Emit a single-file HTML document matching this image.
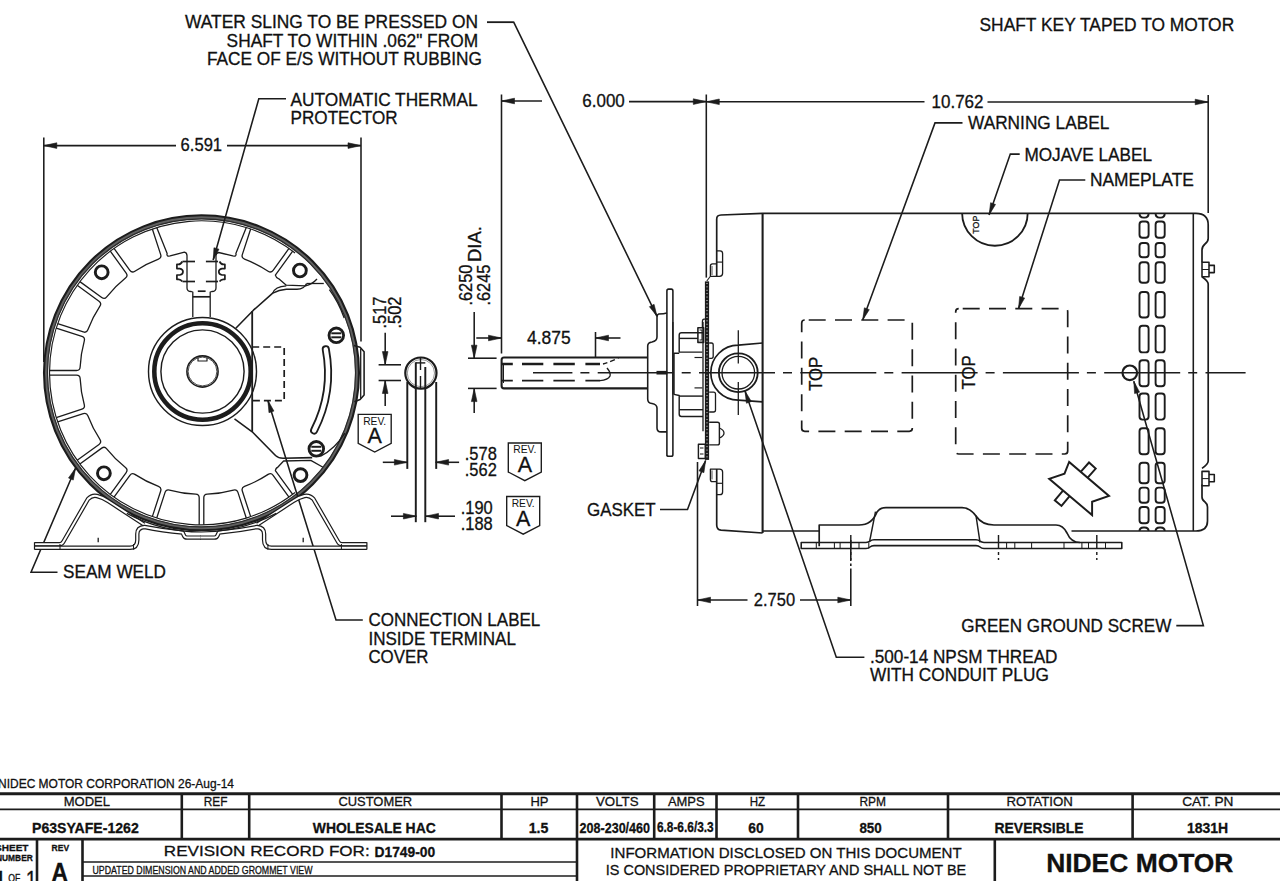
<!DOCTYPE html>
<html><head><meta charset="utf-8"><style>
html,body{margin:0;padding:0;background:#fff;width:1280px;height:881px;overflow:hidden}
svg{display:block}
</style></head><body>
<svg width="1280" height="881" viewBox="0 0 1280 881" stroke-linecap="butt">
<text x="185" y="28.2" font-family="'Liberation Sans', sans-serif" font-size="17.6" font-weight="normal" text-anchor="start" fill="#111" stroke="#111" stroke-width="0.3" textLength="293" lengthAdjust="spacingAndGlyphs" >WATER SLING TO BE PRESSED ON</text>
<text x="226.6" y="46.9" font-family="'Liberation Sans', sans-serif" font-size="17.6" font-weight="normal" text-anchor="start" fill="#111" stroke="#111" stroke-width="0.3" textLength="251.5" lengthAdjust="spacingAndGlyphs" >SHAFT TO WITHIN .062&quot; FROM</text>
<text x="206.9" y="65.2" font-family="'Liberation Sans', sans-serif" font-size="17.6" font-weight="normal" text-anchor="start" fill="#111" stroke="#111" stroke-width="0.3" textLength="275" lengthAdjust="spacingAndGlyphs" >FACE OF E/S WITHOUT RUBBING</text>
<line x1="487" y1="22.3" x2="513.8" y2="22.3" stroke="#1c1c1c" stroke-width="1.56" />
<text x="979.5" y="30.5" font-family="'Liberation Sans', sans-serif" font-size="17.6" font-weight="normal" text-anchor="start" fill="#111" stroke="#111" stroke-width="0.3" textLength="254.7" lengthAdjust="spacingAndGlyphs" >SHAFT KEY TAPED TO MOTOR</text>
<text x="290.6" y="105.6" font-family="'Liberation Sans', sans-serif" font-size="17.6" font-weight="normal" text-anchor="start" fill="#111" stroke="#111" stroke-width="0.3" textLength="187" lengthAdjust="spacingAndGlyphs" >AUTOMATIC THERMAL</text>
<text x="290.6" y="123.9" font-family="'Liberation Sans', sans-serif" font-size="17.6" font-weight="normal" text-anchor="start" fill="#111" stroke="#111" stroke-width="0.3" textLength="107" lengthAdjust="spacingAndGlyphs" >PROTECTOR</text>
<text x="968" y="128.8" font-family="'Liberation Sans', sans-serif" font-size="17.6" font-weight="normal" text-anchor="start" fill="#111" stroke="#111" stroke-width="0.3" textLength="141.3" lengthAdjust="spacingAndGlyphs" >WARNING LABEL</text>
<text x="1024.4" y="161.2" font-family="'Liberation Sans', sans-serif" font-size="17.6" font-weight="normal" text-anchor="start" fill="#111" stroke="#111" stroke-width="0.3" textLength="127.6" lengthAdjust="spacingAndGlyphs" >MOJAVE LABEL</text>
<text x="1090" y="186.2" font-family="'Liberation Sans', sans-serif" font-size="17.6" font-weight="normal" text-anchor="start" fill="#111" stroke="#111" stroke-width="0.3" textLength="103.8" lengthAdjust="spacingAndGlyphs" >NAMEPLATE</text>
<text x="587" y="516.3" font-family="'Liberation Sans', sans-serif" font-size="17.6" font-weight="normal" text-anchor="start" fill="#111" stroke="#111" stroke-width="0.3" textLength="68.7" lengthAdjust="spacingAndGlyphs" >GASKET</text>
<text x="63" y="578.1" font-family="'Liberation Sans', sans-serif" font-size="17.6" font-weight="normal" text-anchor="start" fill="#111" stroke="#111" stroke-width="0.3" textLength="103" lengthAdjust="spacingAndGlyphs" >SEAM WELD</text>
<text x="368.4" y="626" font-family="'Liberation Sans', sans-serif" font-size="17.6" font-weight="normal" text-anchor="start" fill="#111" stroke="#111" stroke-width="0.3" textLength="171.9" lengthAdjust="spacingAndGlyphs" >CONNECTION LABEL</text>
<text x="368.4" y="644.8" font-family="'Liberation Sans', sans-serif" font-size="17.6" font-weight="normal" text-anchor="start" fill="#111" stroke="#111" stroke-width="0.3" textLength="147.6" lengthAdjust="spacingAndGlyphs" >INSIDE TERMINAL</text>
<text x="368.4" y="663.1" font-family="'Liberation Sans', sans-serif" font-size="17.6" font-weight="normal" text-anchor="start" fill="#111" stroke="#111" stroke-width="0.3" textLength="60" lengthAdjust="spacingAndGlyphs" >COVER</text>
<text x="961.3" y="631.9" font-family="'Liberation Sans', sans-serif" font-size="17.6" font-weight="normal" text-anchor="start" fill="#111" stroke="#111" stroke-width="0.3" textLength="210" lengthAdjust="spacingAndGlyphs" >GREEN GROUND SCREW</text>
<text x="870" y="663.4" font-family="'Liberation Sans', sans-serif" font-size="17.6" font-weight="normal" text-anchor="start" fill="#111" stroke="#111" stroke-width="0.3" textLength="187.5" lengthAdjust="spacingAndGlyphs" >.500-14 NPSM THREAD</text>
<text x="870" y="681.3" font-family="'Liberation Sans', sans-serif" font-size="17.6" font-weight="normal" text-anchor="start" fill="#111" stroke="#111" stroke-width="0.3" textLength="178.8" lengthAdjust="spacingAndGlyphs" >WITH CONDUIT PLUG</text>
<line x1="43.8" y1="137.5" x2="43.8" y2="362" stroke="#1c1c1c" stroke-width="1.56" />
<line x1="361" y1="137.5" x2="361" y2="341.5" stroke="#1c1c1c" stroke-width="1.56" />
<line x1="43.8" y1="145.6" x2="176" y2="145.6" stroke="#1c1c1c" stroke-width="1.56" />
<line x1="227" y1="145.6" x2="361" y2="145.6" stroke="#1c1c1c" stroke-width="1.56" />
<path d="M43.8,145.6 L56.8,142.8 L56.8,148.4 Z" fill="#1c1c1c" stroke="#1c1c1c" stroke-width="0.6"/>
<path d="M361,145.6 L348,148.4 L348,142.8 Z" fill="#1c1c1c" stroke="#1c1c1c" stroke-width="0.6"/>
<text x="180.6" y="151.2" font-family="'Liberation Sans', sans-serif" font-size="17.6" font-weight="normal" text-anchor="start" fill="#111" stroke="#111" stroke-width="0.3" textLength="41.5" lengthAdjust="spacingAndGlyphs" >6.591</text>
<line x1="501.5" y1="94.5" x2="501.5" y2="353.5" stroke="#1c1c1c" stroke-width="1.56" />
<line x1="706.3" y1="94.5" x2="706.3" y2="277.6" stroke="#1c1c1c" stroke-width="1.56" />
<line x1="501.5" y1="101" x2="542" y2="101" stroke="#1c1c1c" stroke-width="1.56" />
<path d="M501.5,101 L514.5,98.2 L514.5,103.8 Z" fill="#1c1c1c" stroke="#1c1c1c" stroke-width="0.6"/>
<text x="582.3" y="107.4" font-family="'Liberation Sans', sans-serif" font-size="17.6" font-weight="normal" text-anchor="start" fill="#111" stroke="#111" stroke-width="0.3" textLength="42.5" lengthAdjust="spacingAndGlyphs" >6.000</text>
<line x1="629" y1="101.6" x2="706.3" y2="101.6" stroke="#1c1c1c" stroke-width="1.56" />
<path d="M706.3,101.6 L693.3,104.4 L693.3,98.8 Z" fill="#1c1c1c" stroke="#1c1c1c" stroke-width="0.6"/>
<line x1="706.3" y1="101.8" x2="924.5" y2="101.8" stroke="#1c1c1c" stroke-width="1.56" />
<path d="M706.3,101.8 L719.3,99 L719.3,104.6 Z" fill="#1c1c1c" stroke="#1c1c1c" stroke-width="0.6"/>
<text x="931.5" y="108.1" font-family="'Liberation Sans', sans-serif" font-size="17.6" font-weight="normal" text-anchor="start" fill="#111" stroke="#111" stroke-width="0.3" textLength="52" lengthAdjust="spacingAndGlyphs" >10.762</text>
<line x1="987.5" y1="102" x2="1208.2" y2="102" stroke="#1c1c1c" stroke-width="1.56" />
<path d="M1208.2,102 L1195.2,104.8 L1195.2,99.2 Z" fill="#1c1c1c" stroke="#1c1c1c" stroke-width="0.6"/>
<line x1="1208.2" y1="95" x2="1208.2" y2="213" stroke="#1c1c1c" stroke-width="1.56" />
<line x1="476.3" y1="338" x2="501.5" y2="338" stroke="#1c1c1c" stroke-width="1.56" />
<path d="M501.5,338 L488.5,340.8 L488.5,335.2 Z" fill="#1c1c1c" stroke="#1c1c1c" stroke-width="0.6"/>
<line x1="595.5" y1="332" x2="595.5" y2="358" stroke="#1c1c1c" stroke-width="1.56" />
<line x1="595.5" y1="338" x2="620.5" y2="338" stroke="#1c1c1c" stroke-width="1.56" />
<path d="M595.5,338 L608.5,335.2 L608.5,340.8 Z" fill="#1c1c1c" stroke="#1c1c1c" stroke-width="0.6"/>
<text x="527" y="344.2" font-family="'Liberation Sans', sans-serif" font-size="17.6" font-weight="normal" text-anchor="start" fill="#111" stroke="#111" stroke-width="0.3" textLength="43.7" lengthAdjust="spacingAndGlyphs" >4.875</text>
<line x1="474.2" y1="312" x2="474.2" y2="358.2" stroke="#1c1c1c" stroke-width="1.56" />
<path d="M474.2,358.2 L471.4,345.2 L477,345.2 Z" fill="#1c1c1c" stroke="#1c1c1c" stroke-width="0.6"/>
<line x1="468" y1="358.2" x2="496.6" y2="358.2" stroke="#1c1c1c" stroke-width="1.56" />
<line x1="468" y1="388.4" x2="496.6" y2="388.4" stroke="#1c1c1c" stroke-width="1.56" />
<line x1="474.2" y1="388.6" x2="474.2" y2="413" stroke="#1c1c1c" stroke-width="1.56" />
<path d="M474.2,388.6 L477,401.6 L471.4,401.6 Z" fill="#1c1c1c" stroke="#1c1c1c" stroke-width="0.6"/>
<text x="0" y="0" font-family="'Liberation Sans', sans-serif" font-size="17.6" font-weight="normal" text-anchor="start" fill="#111" stroke="#111" stroke-width="0.3" textLength="41" lengthAdjust="spacingAndGlyphs" transform="translate(471.6,305.6) rotate(-90)">.6250</text>
<text x="0" y="0" font-family="'Liberation Sans', sans-serif" font-size="17.6" font-weight="normal" text-anchor="start" fill="#111" stroke="#111" stroke-width="0.3" textLength="41" lengthAdjust="spacingAndGlyphs" transform="translate(489.6,305.6) rotate(-90)">.6245</text>
<text x="0" y="0" font-family="'Liberation Sans', sans-serif" font-size="17.6" font-weight="normal" text-anchor="start" fill="#111" stroke="#111" stroke-width="0.3" textLength="36" lengthAdjust="spacingAndGlyphs" transform="translate(481.2,262) rotate(-90)">DIA.</text>
<line x1="385.2" y1="332.8" x2="385.2" y2="364.6" stroke="#1c1c1c" stroke-width="1.56" />
<path d="M385.2,364.6 L382.4,351.6 L388,351.6 Z" fill="#1c1c1c" stroke="#1c1c1c" stroke-width="0.6"/>
<line x1="378.6" y1="364.8" x2="401" y2="364.8" stroke="#1c1c1c" stroke-width="1.56" />
<line x1="378.6" y1="380.5" x2="401" y2="380.5" stroke="#1c1c1c" stroke-width="1.56" />
<line x1="385.2" y1="380.5" x2="385.2" y2="406" stroke="#1c1c1c" stroke-width="1.56" />
<path d="M385.2,380.5 L388,393.5 L382.4,393.5 Z" fill="#1c1c1c" stroke="#1c1c1c" stroke-width="0.6"/>
<text x="0" y="0" font-family="'Liberation Sans', sans-serif" font-size="17.6" font-weight="normal" text-anchor="start" fill="#111" stroke="#111" stroke-width="0.3" textLength="32" lengthAdjust="spacingAndGlyphs" transform="translate(385.8,328.5) rotate(-90)">.517</text>
<text x="0" y="0" font-family="'Liberation Sans', sans-serif" font-size="17.6" font-weight="normal" text-anchor="start" fill="#111" stroke="#111" stroke-width="0.3" textLength="32" lengthAdjust="spacingAndGlyphs" transform="translate(401.2,328.5) rotate(-90)">.502</text>
<line x1="382.8" y1="462.3" x2="407.4" y2="462.3" stroke="#1c1c1c" stroke-width="1.56" />
<path d="M407.4,462.3 L394.4,465.1 L394.4,459.5 Z" fill="#1c1c1c" stroke="#1c1c1c" stroke-width="0.6"/>
<line x1="435.6" y1="462.3" x2="459.1" y2="462.3" stroke="#1c1c1c" stroke-width="1.56" />
<path d="M435.6,462.3 L448.6,459.5 L448.6,465.1 Z" fill="#1c1c1c" stroke="#1c1c1c" stroke-width="0.6"/>
<text x="464.8" y="459.9" font-family="'Liberation Sans', sans-serif" font-size="17.6" font-weight="normal" text-anchor="start" fill="#111" stroke="#111" stroke-width="0.3" textLength="32" lengthAdjust="spacingAndGlyphs" >.578</text>
<text x="464.8" y="475.8" font-family="'Liberation Sans', sans-serif" font-size="17.6" font-weight="normal" text-anchor="start" fill="#111" stroke="#111" stroke-width="0.3" textLength="32" lengthAdjust="spacingAndGlyphs" >.562</text>
<line x1="391" y1="516.2" x2="416.4" y2="516.2" stroke="#1c1c1c" stroke-width="1.56" />
<path d="M416.4,516.2 L403.4,519 L403.4,513.4 Z" fill="#1c1c1c" stroke="#1c1c1c" stroke-width="0.6"/>
<line x1="425.5" y1="516.2" x2="455" y2="516.2" stroke="#1c1c1c" stroke-width="1.56" />
<path d="M425.5,516.2 L438.5,513.4 L438.5,519 Z" fill="#1c1c1c" stroke="#1c1c1c" stroke-width="0.6"/>
<text x="460.7" y="514" font-family="'Liberation Sans', sans-serif" font-size="17.6" font-weight="normal" text-anchor="start" fill="#111" stroke="#111" stroke-width="0.3" textLength="32" lengthAdjust="spacingAndGlyphs" >.190</text>
<text x="460.7" y="529.6" font-family="'Liberation Sans', sans-serif" font-size="17.6" font-weight="normal" text-anchor="start" fill="#111" stroke="#111" stroke-width="0.3" textLength="32" lengthAdjust="spacingAndGlyphs" >.188</text>
<line x1="697.5" y1="462" x2="697.5" y2="606" stroke="#1c1c1c" stroke-width="1.56" />
<line x1="697.5" y1="600" x2="747.5" y2="600" stroke="#1c1c1c" stroke-width="1.56" />
<path d="M697.5,600 L710.5,597.2 L710.5,602.8 Z" fill="#1c1c1c" stroke="#1c1c1c" stroke-width="0.6"/>
<text x="753.8" y="606.2" font-family="'Liberation Sans', sans-serif" font-size="17.6" font-weight="normal" text-anchor="start" fill="#111" stroke="#111" stroke-width="0.3" textLength="41.3" lengthAdjust="spacingAndGlyphs" >2.750</text>
<line x1="800" y1="600" x2="850.8" y2="600" stroke="#1c1c1c" stroke-width="1.56" />
<path d="M850.8,600 L837.8,602.8 L837.8,597.2 Z" fill="#1c1c1c" stroke="#1c1c1c" stroke-width="0.6"/>
<line x1="850.8" y1="540" x2="850.8" y2="606" stroke="#1c1c1c" stroke-width="1.56" stroke-dasharray="21,2.5,2.5,2.5,40"/>
<path d="M358.2,414.4 L391.2,414.4 L391.2,443.4 L374.7,452.1 L358.2,443.4 Z" fill="none" stroke="#1c1c1c" stroke-width="1.37" />
<text x="374.7" y="424.7" font-family="'Liberation Sans', sans-serif" font-size="10.5" font-weight="normal" text-anchor="middle" fill="#111" stroke="#111" stroke-width="0" textLength="23" lengthAdjust="spacingAndGlyphs" >REV.</text>
<text x="374.7" y="443.4" font-family="'Liberation Sans', sans-serif" font-size="21.5" font-weight="normal" text-anchor="middle" fill="#111" stroke="#111" stroke-width="0.3" >A</text>
<path d="M508.3,443 L541.3,443 L541.3,472 L524.8,480.7 L508.3,472 Z" fill="none" stroke="#1c1c1c" stroke-width="1.37" />
<text x="524.8" y="453.3" font-family="'Liberation Sans', sans-serif" font-size="10.5" font-weight="normal" text-anchor="middle" fill="#111" stroke="#111" stroke-width="0" textLength="23" lengthAdjust="spacingAndGlyphs" >REV.</text>
<text x="524.8" y="472" font-family="'Liberation Sans', sans-serif" font-size="21.5" font-weight="normal" text-anchor="middle" fill="#111" stroke="#111" stroke-width="0.3" >A</text>
<path d="M506.7,496.5 L539.7,496.5 L539.7,525.5 L523.2,534.2 L506.7,525.5 Z" fill="none" stroke="#1c1c1c" stroke-width="1.37" />
<text x="523.2" y="506.8" font-family="'Liberation Sans', sans-serif" font-size="10.5" font-weight="normal" text-anchor="middle" fill="#111" stroke="#111" stroke-width="0" textLength="23" lengthAdjust="spacingAndGlyphs" >REV.</text>
<text x="523.2" y="525.5" font-family="'Liberation Sans', sans-serif" font-size="21.5" font-weight="normal" text-anchor="middle" fill="#111" stroke="#111" stroke-width="0.3" >A</text>
<circle cx="201.5" cy="372.8" r="155.6" fill="none" stroke="#606060" stroke-width="3.9" />
<circle cx="201.5" cy="372.8" r="157.5" fill="none" stroke="#1c1c1c" stroke-width="2.08" />
<circle cx="201.5" cy="372.8" r="154" fill="none" stroke="#2a2a2a" stroke-width="1.17" />
<path d="M295.08,492.58 A152,152 0 1 1 295.08,253.02" fill="none" stroke="#1c1c1c" stroke-width="1.17" stroke-linejoin="round" />
<path d="M288.98,497.12 L273.11,475.28 Q271.06,472.45 268.14,474.39 A121.5,121.5 0 0 1 244.52,486.43 Q241.23,487.64 242.31,490.97 L250.66,516.65" fill="none" stroke="#1c1c1c" stroke-width="1.3" stroke-linejoin="round" />
<path d="M246.28,518.07 L237.94,492.39 Q236.86,489.06 233.49,490.01 A121.5,121.5 0 0 1 207.3,494.16 Q203.8,494.3 203.8,497.8 L203.8,524.8" fill="none" stroke="#1c1c1c" stroke-width="1.3" stroke-linejoin="round" />
<path d="M199.2,524.8 L199.2,497.8 Q199.2,494.3 195.7,494.16 A121.5,121.5 0 0 1 169.51,490.01 Q166.14,489.06 165.06,492.39 L156.72,518.07" fill="none" stroke="#1c1c1c" stroke-width="1.3" stroke-linejoin="round" />
<path d="M152.34,516.65 L160.69,490.97 Q161.77,487.64 158.48,486.43 A121.5,121.5 0 0 1 134.86,474.39 Q131.94,472.45 129.89,475.28 L114.02,497.12" fill="none" stroke="#1c1c1c" stroke-width="1.3" stroke-linejoin="round" />
<path d="M110.3,494.42 L126.17,472.58 Q128.22,469.74 125.48,467.58 A121.5,121.5 0 0 1 106.72,448.82 Q104.56,446.08 101.72,448.13 L79.88,464" fill="none" stroke="#1c1c1c" stroke-width="1.3" stroke-linejoin="round" />
<path d="M77.18,460.28 L99.02,444.41 Q101.85,442.36 99.91,439.44 A121.5,121.5 0 0 1 87.87,415.82 Q86.66,412.53 83.33,413.61 L57.65,421.96" fill="none" stroke="#1c1c1c" stroke-width="1.3" stroke-linejoin="round" />
<path d="M56.23,417.58 L81.91,409.24 Q85.24,408.16 84.29,404.79 A121.5,121.5 0 0 1 80.14,378.6 Q80,375.1 76.5,375.1 L49.5,375.1" fill="none" stroke="#1c1c1c" stroke-width="1.3" stroke-linejoin="round" />
<path d="M49.5,370.5 L76.5,370.5 Q80,370.5 80.14,367 A121.5,121.5 0 0 1 84.29,340.81 Q85.24,337.44 81.91,336.36 L56.23,328.02" fill="none" stroke="#1c1c1c" stroke-width="1.3" stroke-linejoin="round" />
<path d="M57.65,323.64 L83.33,331.99 Q86.66,333.07 87.87,329.78 A121.5,121.5 0 0 1 99.91,306.16 Q101.85,303.24 99.02,301.19 L77.18,285.32" fill="none" stroke="#1c1c1c" stroke-width="1.3" stroke-linejoin="round" />
<path d="M79.88,281.6 L101.72,297.47 Q104.56,299.52 106.72,296.78 A121.5,121.5 0 0 1 125.48,278.02 Q128.22,275.86 126.17,273.02 L110.3,251.18" fill="none" stroke="#1c1c1c" stroke-width="1.3" stroke-linejoin="round" />
<path d="M114.02,248.48 L129.89,270.32 Q131.94,273.15 134.86,271.21 A121.5,121.5 0 0 1 158.48,259.17 Q161.77,257.96 160.69,254.63 L152.34,228.95" fill="none" stroke="#1c1c1c" stroke-width="1.3" stroke-linejoin="round" />
<path d="M250.66,228.95 L242.31,254.63 Q241.23,257.96 244.52,259.17 A121.5,121.5 0 0 1 268.14,271.21 Q271.06,273.15 273.11,270.32 L288.98,248.48" fill="none" stroke="#1c1c1c" stroke-width="1.3" stroke-linejoin="round" />
<path d="M156.72,227.53 L167.14,253.54 Q166.14,256.54 170.14,255.94 L184.4,252.2 Q187,252.5 187,256 L187,288 Q187,291.5 191.2,291.5 L192.8,292 L192.8,317" fill="none" stroke="#1c1c1c" stroke-width="1.3" stroke-linejoin="round" />
<path d="M246.28,227.53 L235.86,253.54 Q236.86,256.54 232.86,255.94 L218.7,252.5 Q216,252.8 216,256 L216,288 Q216,291.5 211.8,291.5 L210.2,292 L210.2,317" fill="none" stroke="#1c1c1c" stroke-width="1.3" stroke-linejoin="round" />
<path d="M182.3,261.5 Q180.8,264.4 178.5,264.4 L176.9,264.4 L176.9,268.6 L179.8,268.6 Q183,269.3 183,271.8 Q183,274.4 179.8,275 L176.9,275 L176.9,279.3 L178.5,279.3 Q180.8,279.3 182.3,281.5" fill="none" stroke="#1c1c1c" stroke-width="1.69" stroke-linejoin="round" />
<path d="M182.3,261.5 Q180.8,264.4 178.5,264.4 L176.9,264.4 L176.9,268.6 L179.8,268.6 Q183,269.3 183,271.8 Q183,274.4 179.8,275 L176.9,275 L176.9,279.3 L178.5,279.3 Q180.8,279.3 182.3,281.5" fill="none" stroke="#1c1c1c" stroke-width="1.69" stroke-linejoin="round" transform="matrix(-1,0,0,1,401.8,0)"/>
<line x1="182.5" y1="261.5" x2="195" y2="261.5" stroke="#1c1c1c" stroke-width="1.69" />
<line x1="205.9" y1="261.5" x2="218" y2="261.5" stroke="#1c1c1c" stroke-width="1.69" />
<line x1="182.5" y1="281.5" x2="195" y2="281.5" stroke="#1c1c1c" stroke-width="1.69" />
<line x1="205.9" y1="281.5" x2="218" y2="281.5" stroke="#1c1c1c" stroke-width="1.69" />
<line x1="197.8" y1="291.2" x2="205.6" y2="291.2" stroke="#1c1c1c" stroke-width="1.69" />
<line x1="192.8" y1="296.8" x2="210" y2="296.8" stroke="#1c1c1c" stroke-width="1.69" />
<path d="M292.7,251.18 L275.36,275.05 Q276.16,278.05 278.8,278.8 L286.3,285.2 L305.6,285.8 Q312,284.5 317,279" fill="none" stroke="#1c1c1c" stroke-width="1.3" stroke-linejoin="round" />
<path d="M292.7,494.42 L275.36,470.55 Q276.16,467.55 277.5,467.5 L283.6,461 L310.8,460.4 L323,467.2" fill="none" stroke="#1c1c1c" stroke-width="1.3" stroke-linejoin="round" />
<circle cx="101.7" cy="272.3" r="6.4" fill="none" stroke="#1c1c1c" stroke-width="2.93" />
<circle cx="299.9" cy="270.5" r="6.4" fill="none" stroke="#1c1c1c" stroke-width="2.93" />
<circle cx="103.9" cy="473.3" r="6.4" fill="none" stroke="#1c1c1c" stroke-width="2.93" />
<circle cx="300.5" cy="475.1" r="6.4" fill="none" stroke="#1c1c1c" stroke-width="2.93" />
<circle cx="202.5" cy="371.5" r="54" fill="none" stroke="#1c1c1c" stroke-width="1.43" />
<circle cx="202.5" cy="371.5" r="48.2" fill="none" stroke="#1c1c1c" stroke-width="4.55" />
<circle cx="202.5" cy="371.5" r="41.6" fill="none" stroke="#1c1c1c" stroke-width="1.43" />
<circle cx="202.5" cy="371.5" r="15.6" fill="none" stroke="#1c1c1c" stroke-width="1.56" />
<circle cx="202.5" cy="371.5" r="14.4" fill="none" stroke="#1c1c1c" stroke-width="0.78" />
<path d="M198,357.5 L198,361 L207,361 L207,357.5" fill="none" stroke="#1c1c1c" stroke-width="1.17" stroke-linejoin="round" />
<path d="M323.8,283.5 L306.7,283.5" fill="none" stroke="#1c1c1c" stroke-width="1.3" stroke-linejoin="round" />
<path d="M306.7,283.5 Q304,289.2 297,289.2 L286.3,289.2 Q279,289.6 272.7,293.1 L253.4,310.2 L235.8,328.3" fill="none" stroke="#1c1c1c" stroke-width="1.56" stroke-linejoin="round" />
<path d="M272.7,293.1 Q275,286.5 286.3,285.8" fill="none" stroke="#1c1c1c" stroke-width="1.3" stroke-linejoin="round" />
<path d="M329.4,289.7 Q338.5,302 344.2,318.1" fill="none" stroke="#1c1c1c" stroke-width="1.3" stroke-linejoin="round" />
<line x1="252.2" y1="311" x2="252.2" y2="431.8" stroke="#1c1c1c" stroke-width="1.82" />
<path d="M234.5,418.8 L252.2,431.8 L275.5,455.5 Q278.5,458.3 283,458.3 L312.2,457.6" fill="none" stroke="#1c1c1c" stroke-width="1.56" stroke-linejoin="round" />
<path d="M320.3,456.3 Q335,449 344.9,433.1" fill="none" stroke="#1c1c1c" stroke-width="1.3" stroke-linejoin="round" />
<path d="M252.2,347 L284.2,347 L284.2,400.7 L252.2,400.7" fill="none" stroke="#1c1c1c" stroke-width="1.69" stroke-linejoin="round" stroke-dasharray="7,4"/>
<path d="M325.8,349.31 A126.5,126.5 0 0 1 314.11,430.43" fill="none" stroke="#1c1c1c" stroke-width="8.06" stroke-linejoin="round" stroke-linecap="round"/>
<path d="M325.8,349.31 A126.5,126.5 0 0 1 314.11,430.43" fill="none" stroke="#fff" stroke-width="4.42" stroke-linejoin="round" stroke-linecap="round"/>
<circle cx="336.3" cy="335.3" r="7.3" fill="none" stroke="#1c1c1c" stroke-width="2.86" />
<line x1="331.3" y1="333.3" x2="341.3" y2="333.3" stroke="#1c1c1c" stroke-width="1.95" />
<line x1="331.3" y1="337.3" x2="341.3" y2="337.3" stroke="#1c1c1c" stroke-width="1.95" />
<circle cx="316.3" cy="448.8" r="7.3" fill="none" stroke="#1c1c1c" stroke-width="2.86" />
<line x1="311.3" y1="446.8" x2="321.3" y2="446.8" stroke="#1c1c1c" stroke-width="1.95" />
<line x1="311.3" y1="450.8" x2="321.3" y2="450.8" stroke="#1c1c1c" stroke-width="1.95" />
<path d="M353.9,345.6 L360.1,347.3 L364.1,351.8 L364.1,395 L360.1,399.5 L354.4,401.8" fill="none" stroke="#1c1c1c" stroke-width="1.56" stroke-linejoin="round" />
<line x1="360.7" y1="348.4" x2="360.7" y2="398.4" stroke="#1c1c1c" stroke-width="1.3" />
<path d="M716.7,276.3 L716.7,219 Q716.7,215.2 721,215 L762.6,213.3 L1196,213.3 Q1208.2,213.3 1208.2,225 L1208.2,238.5 Q1208.2,241.5 1205,244 Q1202,246.5 1202,250 L1202,262.3" fill="none" stroke="#1c1c1c" stroke-width="1.69" stroke-linejoin="round" />
<path d="M1202,276.7 Q1208.2,281 1208.2,284 L1208.2,461 Q1208.2,464 1202,468.4" fill="none" stroke="#1c1c1c" stroke-width="1.69" stroke-linejoin="round" />
<path d="M1202,484.4 L1202,497 Q1202,500 1205,502 Q1207.5,504 1207.5,507 L1207.5,521 Q1207.5,531 1196,531 L1071.5,531" fill="none" stroke="#1c1c1c" stroke-width="1.69" stroke-linejoin="round" />
<line x1="819.2" y1="531" x2="762.6" y2="531" stroke="#1c1c1c" stroke-width="1.69" />
<path d="M716.7,469.1 L716.7,525 Q716.7,529.6 721,530.2 L762.6,533" fill="none" stroke="#1c1c1c" stroke-width="1.69" stroke-linejoin="round" />
<line x1="762.6" y1="213.3" x2="762.6" y2="533" stroke="#1c1c1c" stroke-width="2.08" />
<line x1="1193.3" y1="213.3" x2="1193.3" y2="531" stroke="#1c1c1c" stroke-width="1.56" />
<path d="M1202,262.3 L1209,262.3 L1209,276.7 L1202,276.7 Z" fill="none" stroke="#1c1c1c" stroke-width="1.56" stroke-linejoin="round" />
<path d="M1209,265.4 L1214.3,265.4 L1214.3,272.6 L1209,272.6" fill="none" stroke="#1c1c1c" stroke-width="1.56" stroke-linejoin="round" />
<line x1="1202" y1="269.5" x2="1209" y2="269.5" stroke="#1c1c1c" stroke-width="1.04" />
<path d="M1202,471.4 L1209,471.4 L1209,485.8 L1202,485.8 Z" fill="none" stroke="#1c1c1c" stroke-width="1.56" stroke-linejoin="round" />
<path d="M1209,474.5 L1214.3,474.5 L1214.3,481.7 L1209,481.7" fill="none" stroke="#1c1c1c" stroke-width="1.56" stroke-linejoin="round" />
<line x1="1202" y1="478.6" x2="1209" y2="478.6" stroke="#1c1c1c" stroke-width="1.04" />
<path d="M716.7,250.8 L720,250.8 Q722.6,250.8 722.6,253.5 L722.6,273.3 Q722.6,276.3 719.5,276.3 L710.4,276.3 L710.4,266 Q710.4,263.8 712.5,263.8 L716.7,263.8" fill="none" stroke="#1c1c1c" stroke-width="1.3" stroke-linejoin="round" />
<line x1="716.7" y1="262.1" x2="722.6" y2="262.1" stroke="#1c1c1c" stroke-width="1.17" />
<line x1="712" y1="266" x2="712" y2="275" stroke="#1c1c1c" stroke-width="0.78" />
<g transform="matrix(1,0,0,-1,0,745.4)"><path d="M716.7,250.8 L720,250.8 Q722.6,250.8 722.6,253.5 L722.6,273.3 Q722.6,276.3 719.5,276.3 L710.4,276.3 L710.4,266 Q710.4,263.8 712.5,263.8 L716.7,263.8" fill="none" stroke="#1c1c1c" stroke-width="1.3" stroke-linejoin="round" /><line x1="716.7" y1="262.1" x2="722.6" y2="262.1" stroke="#1c1c1c" stroke-width="1.17" /><line x1="712" y1="266" x2="712" y2="275" stroke="#1c1c1c" stroke-width="0.78" /></g>
<line x1="710.4" y1="276.3" x2="706.8" y2="281" stroke="#1c1c1c" stroke-width="1.04" />
<rect x="704.9" y="281.4" width="4.2" height="178.5" fill="#1c1c1c"/>
<line x1="707" y1="283" x2="707" y2="458" stroke="#fff" stroke-width="0.98" stroke-dasharray="0.9,2.5"/>
<line x1="703" y1="322" x2="703" y2="431.3" stroke="#1c1c1c" stroke-width="1.3" />
<path d="M647.7,357.5 L504,357.5 Q501.6,357.5 501.6,360 L501.6,386 Q501.6,388.4 504,388.4 L647.7,388.4" fill="none" stroke="#1c1c1c" stroke-width="2.08" stroke-linejoin="round" />
<line x1="503.5" y1="363" x2="503.5" y2="383" stroke="#1c1c1c" stroke-width="1.04" />
<line x1="501.6" y1="364" x2="603" y2="364" stroke="#1c1c1c" stroke-width="2.6" stroke-dasharray="11.2,9.2,21.3,10.1,21.4,10.6,14.6"/>
<line x1="501.6" y1="380.6" x2="603" y2="380.6" stroke="#1c1c1c" stroke-width="1.82" stroke-dasharray="11.2,9.2,21.3,10.1,21.4,10.6,14.6"/>
<path d="M603,364 Q610,362 618.4,358" fill="none" stroke="#1c1c1c" stroke-width="1.43" stroke-linejoin="round" stroke-dasharray="5,3"/>
<path d="M600,380.6 Q608,380 610,376 Q611,372.7 607,368" fill="none" stroke="#1c1c1c" stroke-width="1.43" stroke-linejoin="round" />
<line x1="533" y1="372.7" x2="1245.6" y2="372.7" stroke="#1c1c1c" stroke-width="1.56" stroke-dasharray="76,8,9,8.3" stroke-dashoffset="36.6"/>
<path d="M666.9,456.3 L666.9,291 Q666.9,289.1 668.5,289.1 L671.3,289.1 Q672.9,289.1 672.9,291 L672.9,454.5 Q672.9,456.3 671.3,456.3 L668.5,456.3 Q666.9,456.3 666.9,454.5" fill="none" stroke="#1c1c1c" stroke-width="1.56" stroke-linejoin="round" />
<path d="M666.9,312.9 Q664,314 658.7,314 Q657,314.5 657,317 L657,337 Q657,341 652,341.9 Q647.7,342.5 647.7,346 L647.7,398.9 Q647.7,403 652,403.5 Q657,404.5 657,408 L657,428 Q657,431.9 661,431.9 L666.9,431.9" fill="none" stroke="#1c1c1c" stroke-width="1.56" stroke-linejoin="round" />
<line x1="656.5" y1="372.7" x2="667.2" y2="372.7" stroke="#1c1c1c" stroke-width="3.64" />
<line x1="672.9" y1="322" x2="672.9" y2="394.4" stroke="#1c1c1c" stroke-width="1.3" />
<path d="M674,394.4 L674,353.2 L679.2,353.2" fill="none" stroke="#1c1c1c" stroke-width="1.43" stroke-linejoin="round" />
<path d="M703,332.8 L681.5,332.8 Q679.2,332.8 679.2,335 L679.2,352.1 L702.4,352.1" fill="none" stroke="#1c1c1c" stroke-width="1.43" stroke-linejoin="round" />
<line x1="679.2" y1="338.4" x2="697.9" y2="338.4" stroke="#1c1c1c" stroke-width="1.43" />
<path d="M674,394.4 L679.2,395.5 L679.2,414 Q679.2,416.5 681.5,416.5 L703,416.5" fill="none" stroke="#1c1c1c" stroke-width="1.43" stroke-linejoin="round" />
<line x1="679.2" y1="396.1" x2="703" y2="396.1" stroke="#1c1c1c" stroke-width="1.43" />
<line x1="679.2" y1="409.7" x2="703" y2="409.7" stroke="#1c1c1c" stroke-width="1.43" />
<line x1="694.5" y1="357.5" x2="702.4" y2="357.5" stroke="#1c1c1c" stroke-width="1.17" />
<line x1="694.5" y1="387.9" x2="702.4" y2="387.9" stroke="#1c1c1c" stroke-width="1.17" />
<path d="M697.9,327.7 L703.6,327.7 L703.6,342.4 L697.9,342.4 Z" fill="none" stroke="#1c1c1c" stroke-width="1.56" stroke-linejoin="round" />
<path d="M699.5,330 L702,330 L702,340 L699.5,340" fill="none" stroke="#1c1c1c" stroke-width="1.04" stroke-linejoin="round" />
<path d="M702.4,327.7 L702.4,322 Q702.4,319.2 704,319.2 L705.3,319.2" fill="none" stroke="#1c1c1c" stroke-width="1.3" stroke-linejoin="round" />
<path d="M709.2,343 L711.5,343 Q713.2,343 713.2,345 L713.2,356.3 Q713.2,358.3 711.5,358.3 L709.2,358.3" fill="none" stroke="#1c1c1c" stroke-width="1.3" stroke-linejoin="round" />
<path d="M709.2,392.1 L713.5,392.1 Q715.5,392.1 715.5,394 L715.5,410 Q715.5,412 713.5,412 L709.2,412" fill="none" stroke="#1c1c1c" stroke-width="1.3" stroke-linejoin="round" />
<path d="M709.2,422.2 L717.5,422.2 Q719.4,422.2 719.4,424 L719.4,443 Q719.4,444.9 717.5,444.9 L709.2,444.9" fill="none" stroke="#1c1c1c" stroke-width="1.43" stroke-linejoin="round" />
<path d="M719.4,428 Q724,430 724,433 Q724,436 719.4,438" fill="none" stroke="#1c1c1c" stroke-width="1.3" stroke-linejoin="round" />
<path d="M698.4,444.3 L705.3,444.3 L705.3,458.5 L698.4,458.5 Z" fill="none" stroke="#1c1c1c" stroke-width="1.43" stroke-linejoin="round" />
<line x1="700" y1="448" x2="703.5" y2="448" stroke="#1c1c1c" stroke-width="1.04" />
<line x1="700" y1="454" x2="703.5" y2="454" stroke="#1c1c1c" stroke-width="1.04" />
<path d="M762.6,343 L738.3,345.2 A27.5,27.5 0 0 0 738.3,400.2 L762.6,401.9" fill="none" stroke="#1c1c1c" stroke-width="1.69" stroke-linejoin="round" />
<circle cx="738.3" cy="372.7" r="19.4" fill="none" stroke="#1c1c1c" stroke-width="1.82" />
<circle cx="738.3" cy="372.7" r="16.3" fill="none" stroke="#1c1c1c" stroke-width="1.3" />
<line x1="738.3" y1="330.2" x2="738.3" y2="363.5" stroke="#1c1c1c" stroke-width="1.3" />
<line x1="738.3" y1="382" x2="738.3" y2="415" stroke="#1c1c1c" stroke-width="1.3" />
<path d="M804.7,320 L909.3,320 Q912.3,320 912.3,323 L912.3,428.3 Q912.3,431.3 909.3,431.3 L804.7,431.3 Q801.7,431.3 801.7,428.3 L801.7,323 Q801.7,320 804.7,320 Z" fill="none" stroke="#1c1c1c" stroke-width="1.69" stroke-linejoin="round" stroke-dasharray="17,9.3" stroke-dashoffset="-4"/>
<path d="M958.7,308.7 L1064.7,308.7 Q1067.7,308.7 1067.7,311.7 L1067.7,451 Q1067.7,454 1064.7,454 L958.7,454 Q955.7,454 955.7,451 L955.7,311.7 Q955.7,308.7 958.7,308.7 Z" fill="none" stroke="#1c1c1c" stroke-width="1.69" stroke-linejoin="round" stroke-dasharray="17,9.3" stroke-dashoffset="-4"/>
<text x="0" y="0" font-family="'Liberation Sans', sans-serif" font-size="17.5" font-weight="normal" text-anchor="start" fill="#111" stroke="#111" stroke-width="0.3" textLength="34" lengthAdjust="spacingAndGlyphs" transform="translate(821.6,390.8) rotate(-90)">TOP</text>
<text x="0" y="0" font-family="'Liberation Sans', sans-serif" font-size="17.5" font-weight="normal" text-anchor="start" fill="#111" stroke="#111" stroke-width="0.3" textLength="34.4" lengthAdjust="spacingAndGlyphs" transform="translate(975.1,389.6) rotate(-90)">TOP</text>
<path d="M962.1,213 A32.8,32.8 0 0 0 1027.7,213" fill="none" stroke="#1c1c1c" stroke-width="1.82" stroke-linejoin="round" />
<text x="0" y="0" font-family="'Liberation Sans', sans-serif" font-size="9" font-weight="normal" text-anchor="start" fill="#111" stroke="#111" stroke-width="0.3" textLength="18" lengthAdjust="spacingAndGlyphs" transform="translate(978.8,233.7) rotate(-90)">TOP</text>
<rect x="1139.5" y="221.5" width="9.1" height="16.3" rx="3" ry="3" fill="none" stroke="#1c1c1c" stroke-width="1.9"/>
<rect x="1155.6" y="221.5" width="9.1" height="16.3" rx="3" ry="3" fill="none" stroke="#1c1c1c" stroke-width="1.9"/>
<rect x="1139.5" y="243" width="9.1" height="14.2" rx="3" ry="3" fill="none" stroke="#1c1c1c" stroke-width="1.9"/>
<rect x="1155.6" y="243" width="9.1" height="14.2" rx="3" ry="3" fill="none" stroke="#1c1c1c" stroke-width="1.9"/>
<rect x="1139.5" y="262.3" width="9.1" height="20.5" rx="3" ry="3" fill="none" stroke="#1c1c1c" stroke-width="1.9"/>
<rect x="1155.6" y="262.3" width="9.1" height="20.5" rx="3" ry="3" fill="none" stroke="#1c1c1c" stroke-width="1.9"/>
<rect x="1139.5" y="292" width="9.1" height="25.5" rx="3" ry="3" fill="none" stroke="#1c1c1c" stroke-width="1.9"/>
<rect x="1155.6" y="292" width="9.1" height="25.5" rx="3" ry="3" fill="none" stroke="#1c1c1c" stroke-width="1.9"/>
<rect x="1139.5" y="325.7" width="9.1" height="26.7" rx="3" ry="3" fill="none" stroke="#1c1c1c" stroke-width="1.9"/>
<rect x="1155.6" y="325.7" width="9.1" height="26.7" rx="3" ry="3" fill="none" stroke="#1c1c1c" stroke-width="1.9"/>
<rect x="1139.5" y="360.3" width="9.1" height="26" rx="3" ry="3" fill="none" stroke="#1c1c1c" stroke-width="1.9"/>
<rect x="1155.6" y="360.3" width="9.1" height="26" rx="3" ry="3" fill="none" stroke="#1c1c1c" stroke-width="1.9"/>
<rect x="1139.5" y="393.5" width="9.1" height="26.1" rx="3" ry="3" fill="none" stroke="#1c1c1c" stroke-width="1.9"/>
<rect x="1155.6" y="393.5" width="9.1" height="26.1" rx="3" ry="3" fill="none" stroke="#1c1c1c" stroke-width="1.9"/>
<rect x="1139.5" y="428.3" width="9.1" height="25.9" rx="3" ry="3" fill="none" stroke="#1c1c1c" stroke-width="1.9"/>
<rect x="1155.6" y="428.3" width="9.1" height="25.9" rx="3" ry="3" fill="none" stroke="#1c1c1c" stroke-width="1.9"/>
<rect x="1139.5" y="462.8" width="9.1" height="20.5" rx="3" ry="3" fill="none" stroke="#1c1c1c" stroke-width="1.9"/>
<rect x="1155.6" y="462.8" width="9.1" height="20.5" rx="3" ry="3" fill="none" stroke="#1c1c1c" stroke-width="1.9"/>
<rect x="1139.5" y="487.6" width="9.1" height="15.1" rx="3" ry="3" fill="none" stroke="#1c1c1c" stroke-width="1.9"/>
<rect x="1155.6" y="487.6" width="9.1" height="15.1" rx="3" ry="3" fill="none" stroke="#1c1c1c" stroke-width="1.9"/>
<rect x="1139.5" y="507" width="9.1" height="16.2" rx="3" ry="3" fill="none" stroke="#1c1c1c" stroke-width="1.9"/>
<rect x="1155.6" y="507" width="9.1" height="16.2" rx="3" ry="3" fill="none" stroke="#1c1c1c" stroke-width="1.9"/>
<path d="M1139.5,213.3 L1139.5,213.5 Q1139.5,217.6 1143.5,217.6 L1144.6,217.6 Q1148.6,217.6 1148.6,213.5 L1148.6,213.3" fill="none" stroke="#1c1c1c" stroke-width="1.95" stroke-linejoin="round" />
<path d="M1139.5,531 L1139.5,531 Q1139.5,527.4 1143.5,527.4 L1144.6,527.4 Q1148.6,527.4 1148.6,531" fill="none" stroke="#1c1c1c" stroke-width="1.95" stroke-linejoin="round" />
<path d="M1155.6,213.3 L1155.6,213.5 Q1155.6,217.6 1159.6,217.6 L1160.6999999999998,217.6 Q1164.6999999999998,217.6 1164.6999999999998,213.5 L1164.6999999999998,213.3" fill="none" stroke="#1c1c1c" stroke-width="1.95" stroke-linejoin="round" />
<path d="M1155.6,531 L1155.6,531 Q1155.6,527.4 1159.6,527.4 L1160.6999999999998,527.4 Q1164.6999999999998,527.4 1164.6999999999998,531" fill="none" stroke="#1c1c1c" stroke-width="1.95" stroke-linejoin="round" />
<circle cx="1129.8" cy="372.8" r="7.3" fill="none" stroke="#1c1c1c" stroke-width="2.21" />
<path d="M1069.1,462 L1064.5,473.7 L1049.2,478.8 L1092.1,515.1 L1092.1,501.8 L1109,496 Z" fill="none" stroke="#1c1c1c" stroke-width="1.95" />
<path d="M1080.9,471.7 L1089,462.5 L1095.7,468.6 L1087.5,477.8" fill="none" stroke="#1c1c1c" stroke-width="1.95" />
<path d="M1063,490.6 L1054.8,500.3 L1061.5,505.9 L1069.6,496.2" fill="none" stroke="#1c1c1c" stroke-width="1.95" />
<path d="M819.2,546.2 L819.2,525 L859,525 Q872,525 877,512 Q880,507.7 886,507.7 L962,507.7 Q970,507.7 976,516 Q982,525 994,525 L1056,525 Q1063,525 1067,533 Q1071,542.5 1080,542.5" fill="none" stroke="#1c1c1c" stroke-width="1.69" stroke-linejoin="round" />
<path d="M869.7,541 L875.5,511.7" fill="none" stroke="#1c1c1c" stroke-width="1.43" stroke-linejoin="round" />
<path d="M976,515.7 L980,542.3" fill="none" stroke="#1c1c1c" stroke-width="1.43" stroke-linejoin="round" />
<path d="M801.2,542.5 L866,542.5 Q868.5,542.5 870,541.2 Q871.5,539.8 874,539.8 L976,539.8 Q978.5,539.8 980,541.2 Q981.5,542.5 984,542.5 L1121.8,542.5 L1121.8,548.5 L984,548.5 Q981.5,548.5 980,547 Q978.5,545.6 976,545.6 L874,545.6 Q871.5,545.6 870,547 Q868.5,548.5 866,548.5 L801.2,548.5 Z" fill="none" stroke="#1c1c1c" stroke-width="1.56" stroke-linejoin="round" />
<line x1="816.3" y1="542.5" x2="816.3" y2="548.5" stroke="#1c1c1c" stroke-width="1.04" />
<line x1="834.4" y1="542.5" x2="834.4" y2="548.5" stroke="#1c1c1c" stroke-width="1.04" />
<line x1="840.1" y1="542.5" x2="840.1" y2="548.5" stroke="#1c1c1c" stroke-width="1.04" />
<line x1="859" y1="542.5" x2="859" y2="548.5" stroke="#1c1c1c" stroke-width="1.04" />
<line x1="868.8" y1="542.5" x2="868.8" y2="548.5" stroke="#1c1c1c" stroke-width="1.04" />
<line x1="1006.6" y1="542.5" x2="1006.6" y2="548.5" stroke="#1c1c1c" stroke-width="1.04" />
<line x1="1014.8" y1="542.5" x2="1014.8" y2="548.5" stroke="#1c1c1c" stroke-width="1.04" />
<line x1="1031.6" y1="542.5" x2="1031.6" y2="548.5" stroke="#1c1c1c" stroke-width="1.04" />
<line x1="1064" y1="542.5" x2="1064" y2="548.5" stroke="#1c1c1c" stroke-width="1.04" />
<line x1="1081.9" y1="542.5" x2="1081.9" y2="548.5" stroke="#1c1c1c" stroke-width="1.04" />
<line x1="1088.5" y1="542.5" x2="1088.5" y2="548.5" stroke="#1c1c1c" stroke-width="1.04" />
<line x1="1105.5" y1="542.5" x2="1105.5" y2="548.5" stroke="#1c1c1c" stroke-width="1.04" />
<line x1="850.8" y1="535" x2="850.8" y2="560" stroke="#1c1c1c" stroke-width="1.43" stroke-dasharray="14,3,3,3"/>
<line x1="998.5" y1="535" x2="998.5" y2="560" stroke="#1c1c1c" stroke-width="1.43" stroke-dasharray="14,3,3,3"/>
<line x1="1096.8" y1="535" x2="1096.8" y2="560" stroke="#1c1c1c" stroke-width="1.43" stroke-dasharray="14,3,3,3"/>
<path d="M487,22.3 L513.8,22.3 L657,316.3" fill="none" stroke="#1c1c1c" stroke-width="1.56" />
<path d="M657,316.3 L649.41,306.65 L654.08,304.37 Z" fill="#1c1c1c" stroke="#1c1c1c" stroke-width="0.6"/>
<path d="M286,98.8 L258.8,98.8 L213.2,260" fill="none" stroke="#1c1c1c" stroke-width="1.56" />
<path d="M213.2,260 L213.96,247.75 L218.97,249.16 Z" fill="#1c1c1c" stroke="#1c1c1c" stroke-width="0.6"/>
<path d="M962.5,122.9 L935,122.9 L862.7,320" fill="none" stroke="#1c1c1c" stroke-width="1.56" />
<path d="M862.7,320 L864.39,307.84 L869.27,309.63 Z" fill="#1c1c1c" stroke="#1c1c1c" stroke-width="0.6"/>
<path d="M1019.7,154.1 L1010.3,154.1 L989.1,214.9" fill="none" stroke="#1c1c1c" stroke-width="1.56" />
<path d="M989.1,214.9 L990.6,202.71 L995.51,204.43 Z" fill="#1c1c1c" stroke="#1c1c1c" stroke-width="0.6"/>
<path d="M1085.3,180 L1059.5,180 L1018.5,308.7" fill="none" stroke="#1c1c1c" stroke-width="1.56" />
<path d="M1018.5,308.7 L1019.67,296.48 L1024.62,298.06 Z" fill="#1c1c1c" stroke="#1c1c1c" stroke-width="0.6"/>
<path d="M660,509.5 L687.5,509.5 L705.6,460.5" fill="none" stroke="#1c1c1c" stroke-width="1.56" />
<path d="M705.6,460.5 L703.88,472.66 L699,470.86 Z" fill="#1c1c1c" stroke="#1c1c1c" stroke-width="0.6"/>
<path d="M57.5,572.2 L31,572.2 L75.6,468" fill="none" stroke="#1c1c1c" stroke-width="1.56" />
<path d="M75.6,468 L73.27,480.06 L68.49,478.01 Z" fill="#1c1c1c" stroke="#1c1c1c" stroke-width="0.6"/>
<path d="M362.8,620 L336,620 L267.9,400.4" fill="none" stroke="#1c1c1c" stroke-width="1.56" />
<path d="M267.9,400.4 L273.94,411.09 L268.97,412.63 Z" fill="#1c1c1c" stroke="#1c1c1c" stroke-width="0.6"/>
<path d="M864.4,657.2 L836.3,657.2 L745,391" fill="none" stroke="#1c1c1c" stroke-width="1.56" />
<path d="M745,391 L751.35,401.51 L746.43,403.19 Z" fill="#1c1c1c" stroke="#1c1c1c" stroke-width="0.6"/>
<path d="M1176.3,625.6 L1203.4,625.6 L1133.8,381.3" fill="none" stroke="#1c1c1c" stroke-width="1.56" />
<path d="M1133.8,381.3 L1139.59,392.13 L1134.59,393.55 Z" fill="#1c1c1c" stroke="#1c1c1c" stroke-width="0.6"/>
<circle cx="420.9" cy="373.1" r="15.6" fill="none" stroke="#1c1c1c" stroke-width="2.21" />
<circle cx="420.9" cy="373.1" r="13.6" fill="none" stroke="#777" stroke-width="0.78" />
<line x1="407.3" y1="382" x2="407.3" y2="468.9" stroke="#1c1c1c" stroke-width="1.95" />
<line x1="436.2" y1="382" x2="436.2" y2="468.9" stroke="#1c1c1c" stroke-width="1.95" />
<line x1="415.8" y1="362.3" x2="415.8" y2="522.2" stroke="#1c1c1c" stroke-width="1.95" />
<line x1="425.3" y1="367" x2="425.3" y2="522.2" stroke="#1c1c1c" stroke-width="1.95" />
<line x1="415.8" y1="362.9" x2="425.3" y2="362.9" stroke="#1c1c1c" stroke-width="1.43" />
<line x1="420.5" y1="358" x2="420.5" y2="370" stroke="#1c1c1c" stroke-width="1.43" />
<line x1="420.5" y1="376" x2="420.5" y2="388" stroke="#1c1c1c" stroke-width="1.43" />
<path d="M34.5,544.3 L59.5,544.3 Q62,544.3 63.5,541.5 L88,499 Q92,494.8 97,496 Q103,497.5 108,501 Q125,512 144,524.5" fill="none" stroke="#1c1c1c" stroke-width="4.4" stroke-linejoin="round"/>
<path d="M34.5,544.3 L59.5,544.3 Q62,544.3 63.5,541.5 L88,499 Q92,494.8 97,496 Q103,497.5 108,501 Q125,512 144,524.5" fill="none" stroke="#fff" stroke-width="2.0" stroke-linejoin="round"/>
<path d="M34.5,547.8 L130,547.8 Q137.3,547.8 137.3,540 L137.3,534 Q137.3,527.5 144.5,527 Q162,530.5 182.5,532.5 L184.2,536 Q185,537.6 187,537.6 L201,537.6" fill="none" stroke="#1c1c1c" stroke-width="4.4" stroke-linejoin="round"/>
<path d="M34.5,547.8 L130,547.8 Q137.3,547.8 137.3,540 L137.3,534 Q137.3,527.5 144.5,527 Q162,530.5 182.5,532.5 L184.2,536 Q185,537.6 187,537.6 L201,537.6" fill="none" stroke="#fff" stroke-width="2.0" stroke-linejoin="round"/>
<path d="M34.5,542.3 L34.5,549.6" stroke="#1c1c1c" stroke-width="1.2"/>
<line x1="98.2" y1="537.8" x2="98.2" y2="542.3" stroke="#1c1c1c" stroke-width="1.3" />
<line x1="60" y1="544" x2="60" y2="549.6" stroke="#1c1c1c" stroke-width="1.04" />
<line x1="133.5" y1="544" x2="133.5" y2="549.6" stroke="#1c1c1c" stroke-width="1.04" />
<g transform="matrix(-1,0,0,1,401.4,0)"><path d="M34.5,544.3 L59.5,544.3 Q62,544.3 63.5,541.5 L88,499 Q92,494.8 97,496 Q103,497.5 108,501 Q125,512 144,524.5" fill="none" stroke="#1c1c1c" stroke-width="4.4" stroke-linejoin="round"/><path d="M34.5,544.3 L59.5,544.3 Q62,544.3 63.5,541.5 L88,499 Q92,494.8 97,496 Q103,497.5 108,501 Q125,512 144,524.5" fill="none" stroke="#fff" stroke-width="2.0" stroke-linejoin="round"/><path d="M34.5,547.8 L130,547.8 Q137.3,547.8 137.3,540 L137.3,534 Q137.3,527.5 144.5,527 Q162,530.5 182.5,532.5 L184.2,536 Q185,537.6 187,537.6 L201,537.6" fill="none" stroke="#1c1c1c" stroke-width="4.4" stroke-linejoin="round"/><path d="M34.5,547.8 L130,547.8 Q137.3,547.8 137.3,540 L137.3,534 Q137.3,527.5 144.5,527 Q162,530.5 182.5,532.5 L184.2,536 Q185,537.6 187,537.6 L201,537.6" fill="none" stroke="#fff" stroke-width="2.0" stroke-linejoin="round"/><path d="M34.5,542.3 L34.5,549.6" stroke="#1c1c1c" stroke-width="1.2"/><line x1="98.2" y1="537.8" x2="98.2" y2="542.3" stroke="#1c1c1c" stroke-width="1.3" /><line x1="60" y1="544" x2="60" y2="549.6" stroke="#1c1c1c" stroke-width="1.04" /><line x1="133.5" y1="544" x2="133.5" y2="549.6" stroke="#1c1c1c" stroke-width="1.04" /></g>
<path d="M276.24,513.37 A159.2,159.2 0 0 1 126.76,513.37" fill="none" stroke="#1c1c1c" stroke-width="1.17" stroke-linejoin="round" />
<text x="-2" y="788" font-family="'Liberation Sans', sans-serif" font-size="12.8" font-weight="normal" text-anchor="start" fill="#111" stroke="#111" stroke-width="0.3" textLength="236" lengthAdjust="spacingAndGlyphs" >NIDEC MOTOR CORPORATION 26-Aug-14</text>
<line x1="0" y1="793.8" x2="1280" y2="793.8" stroke="#1c1c1c" stroke-width="2.86" />
<line x1="0" y1="809.4" x2="1280" y2="809.4" stroke="#1c1c1c" stroke-width="1.56" />
<line x1="0" y1="839.1" x2="1280" y2="839.1" stroke="#1c1c1c" stroke-width="2.86" />
<line x1="181.8" y1="793.8" x2="181.8" y2="839.1" stroke="#1c1c1c" stroke-width="2.6" />
<line x1="249.2" y1="793.8" x2="249.2" y2="839.1" stroke="#1c1c1c" stroke-width="2.6" />
<line x1="501.5" y1="793.8" x2="501.5" y2="839.1" stroke="#1c1c1c" stroke-width="2.6" />
<line x1="577" y1="793.8" x2="577" y2="839.1" stroke="#1c1c1c" stroke-width="2.6" />
<line x1="654.2" y1="793.8" x2="654.2" y2="839.1" stroke="#1c1c1c" stroke-width="2.6" />
<line x1="716.5" y1="793.8" x2="716.5" y2="839.1" stroke="#1c1c1c" stroke-width="2.6" />
<line x1="798" y1="793.8" x2="798" y2="839.1" stroke="#1c1c1c" stroke-width="2.6" />
<line x1="948" y1="793.8" x2="948" y2="839.1" stroke="#1c1c1c" stroke-width="2.6" />
<line x1="1132.6" y1="793.8" x2="1132.6" y2="839.1" stroke="#1c1c1c" stroke-width="2.6" />
<text x="86.9" y="806.3" font-family="'Liberation Sans', sans-serif" font-size="13.5" font-weight="normal" text-anchor="middle" fill="#111" stroke="#111" stroke-width="0.3" textLength="46.3" lengthAdjust="spacingAndGlyphs" >MODEL</text>
<text x="215.6" y="806.3" font-family="'Liberation Sans', sans-serif" font-size="13.5" font-weight="normal" text-anchor="middle" fill="#111" stroke="#111" stroke-width="0.3" textLength="23.7" lengthAdjust="spacingAndGlyphs" >REF</text>
<text x="375.3" y="806.3" font-family="'Liberation Sans', sans-serif" font-size="13.5" font-weight="normal" text-anchor="middle" fill="#111" stroke="#111" stroke-width="0.3" textLength="73.8" lengthAdjust="spacingAndGlyphs" >CUSTOMER</text>
<text x="539.4" y="806.3" font-family="'Liberation Sans', sans-serif" font-size="13.5" font-weight="normal" text-anchor="middle" fill="#111" stroke="#111" stroke-width="0.3" textLength="18" lengthAdjust="spacingAndGlyphs" >HP</text>
<text x="617.3" y="806.3" font-family="'Liberation Sans', sans-serif" font-size="13.5" font-weight="normal" text-anchor="middle" fill="#111" stroke="#111" stroke-width="0.3" textLength="42.6" lengthAdjust="spacingAndGlyphs" >VOLTS</text>
<text x="686.3" y="806.3" font-family="'Liberation Sans', sans-serif" font-size="13.5" font-weight="normal" text-anchor="middle" fill="#111" stroke="#111" stroke-width="0.3" textLength="36.7" lengthAdjust="spacingAndGlyphs" >AMPS</text>
<text x="757.4" y="806.3" font-family="'Liberation Sans', sans-serif" font-size="13.5" font-weight="normal" text-anchor="middle" fill="#111" stroke="#111" stroke-width="0.3" textLength="15.4" lengthAdjust="spacingAndGlyphs" >HZ</text>
<text x="872.7" y="806.3" font-family="'Liberation Sans', sans-serif" font-size="13.5" font-weight="normal" text-anchor="middle" fill="#111" stroke="#111" stroke-width="0.3" textLength="26.6" lengthAdjust="spacingAndGlyphs" >RPM</text>
<text x="1039.6" y="806.3" font-family="'Liberation Sans', sans-serif" font-size="13.5" font-weight="normal" text-anchor="middle" fill="#111" stroke="#111" stroke-width="0.3" textLength="66.4" lengthAdjust="spacingAndGlyphs" >ROTATION</text>
<text x="1207.8" y="806.3" font-family="'Liberation Sans', sans-serif" font-size="13.5" font-weight="normal" text-anchor="middle" fill="#111" stroke="#111" stroke-width="0.3" textLength="51.3" lengthAdjust="spacingAndGlyphs" >CAT. PN</text>
<text x="85.4" y="833.3" font-family="'Liberation Sans', sans-serif" font-size="15.5" font-weight="bold" text-anchor="middle" fill="#111" stroke="#111" stroke-width="0.3" textLength="106.8" lengthAdjust="spacingAndGlyphs" >P63SYAFE-1262</text>
<text x="374.3" y="833.3" font-family="'Liberation Sans', sans-serif" font-size="15.5" font-weight="bold" text-anchor="middle" fill="#111" stroke="#111" stroke-width="0.3" textLength="123" lengthAdjust="spacingAndGlyphs" >WHOLESALE HAC</text>
<text x="538.5" y="833.3" font-family="'Liberation Sans', sans-serif" font-size="15.5" font-weight="bold" text-anchor="middle" fill="#111" stroke="#111" stroke-width="0.3" textLength="19.7" lengthAdjust="spacingAndGlyphs" >1.5</text>
<text x="614.8" y="833.3" font-family="'Liberation Sans', sans-serif" font-size="15.5" font-weight="bold" text-anchor="middle" fill="#111" stroke="#111" stroke-width="0.3" textLength="70.5" lengthAdjust="spacingAndGlyphs" >208-230/460</text>
<text x="756" y="833.3" font-family="'Liberation Sans', sans-serif" font-size="15.5" font-weight="bold" text-anchor="middle" fill="#111" stroke="#111" stroke-width="0.3" textLength="15.4" lengthAdjust="spacingAndGlyphs" >60</text>
<text x="870.6" y="833.3" font-family="'Liberation Sans', sans-serif" font-size="15.5" font-weight="bold" text-anchor="middle" fill="#111" stroke="#111" stroke-width="0.3" textLength="22.4" lengthAdjust="spacingAndGlyphs" >850</text>
<text x="1039" y="833.3" font-family="'Liberation Sans', sans-serif" font-size="15.5" font-weight="bold" text-anchor="middle" fill="#111" stroke="#111" stroke-width="0.3" textLength="89" lengthAdjust="spacingAndGlyphs" >REVERSIBLE</text>
<text x="1207.6" y="833.3" font-family="'Liberation Sans', sans-serif" font-size="15.5" font-weight="bold" text-anchor="middle" fill="#111" stroke="#111" stroke-width="0.3" textLength="41.2" lengthAdjust="spacingAndGlyphs" >1831H</text>
<text x="685.3" y="831.7" font-family="'Liberation Sans', sans-serif" font-size="14.5" font-weight="bold" text-anchor="middle" fill="#111" stroke="#111" stroke-width="0.3" textLength="56.8" lengthAdjust="spacingAndGlyphs" >6.8-6.6/3.3</text>
<line x1="37" y1="839.1" x2="37" y2="881" stroke="#1c1c1c" stroke-width="2.6" />
<line x1="82.5" y1="839.1" x2="82.5" y2="881" stroke="#1c1c1c" stroke-width="2.6" />
<line x1="577" y1="839.1" x2="577" y2="881" stroke="#1c1c1c" stroke-width="2.6" />
<line x1="994.8" y1="839.1" x2="994.8" y2="881" stroke="#1c1c1c" stroke-width="2.6" />
<line x1="82.5" y1="862" x2="577" y2="862" stroke="#1c1c1c" stroke-width="1.56" />
<line x1="82.5" y1="876" x2="577" y2="876" stroke="#1c1c1c" stroke-width="1.56" />
<line x1="0" y1="862.5" x2="37" y2="862.5" stroke="#1c1c1c" stroke-width="0.0" />
<text x="-5" y="851.4" font-family="'Liberation Sans', sans-serif" font-size="9.8" font-weight="bold" text-anchor="start" fill="#111" stroke="#111" stroke-width="0.3" textLength="33.5" lengthAdjust="spacingAndGlyphs" >SHEET</text>
<text x="-4" y="861.2" font-family="'Liberation Sans', sans-serif" font-size="9.8" font-weight="bold" text-anchor="start" fill="#111" stroke="#111" stroke-width="0.3" textLength="36.8" lengthAdjust="spacingAndGlyphs" >NUMBER</text>
<text x="51.6" y="851.4" font-family="'Liberation Sans', sans-serif" font-size="9.8" font-weight="bold" text-anchor="start" fill="#111" stroke="#111" stroke-width="0.3" textLength="17.5" lengthAdjust="spacingAndGlyphs" >REV</text>
<text x="59.8" y="880.8" font-family="'Liberation Sans', sans-serif" font-size="25" font-weight="bold" text-anchor="middle" fill="#111" stroke="#111" stroke-width="0.3" textLength="16.4" lengthAdjust="spacingAndGlyphs" >A</text>
<text x="-5.6" y="888" font-family="'Liberation Sans', sans-serif" font-size="23" font-weight="bold" text-anchor="start" fill="#111" stroke="#111" stroke-width="0.3" textLength="11" lengthAdjust="spacingAndGlyphs" >1</text>
<text x="8.2" y="881.8" font-family="'Liberation Sans', sans-serif" font-size="10" font-weight="normal" text-anchor="start" fill="#111" stroke="#111" stroke-width="0.3" textLength="12" lengthAdjust="spacingAndGlyphs" >OF</text>
<text x="25.8" y="888" font-family="'Liberation Sans', sans-serif" font-size="23" font-weight="normal" text-anchor="start" fill="#111" stroke="#111" stroke-width="0.3" textLength="11" lengthAdjust="spacingAndGlyphs" >1</text>
<text x="163.8" y="856.3" font-family="'Liberation Sans', sans-serif" font-size="15.5" font-weight="normal" text-anchor="start" fill="#111" stroke="#111" stroke-width="0.3" textLength="205.9" lengthAdjust="spacingAndGlyphs" >REVISION RECORD FOR:</text>
<text x="374.5" y="856.8" font-family="'Liberation Sans', sans-serif" font-size="15.5" font-weight="bold" text-anchor="start" fill="#111" stroke="#111" stroke-width="0.3" textLength="60.7" lengthAdjust="spacingAndGlyphs" >D1749-00</text>
<text x="92.5" y="873.8" font-family="'Liberation Sans', sans-serif" font-size="10.5" font-weight="normal" text-anchor="start" fill="#111" stroke="#111" stroke-width="0.3" textLength="220" lengthAdjust="spacingAndGlyphs" >UPDATED DIMENSION AND ADDED GROMMET VIEW</text>
<text x="786" y="857.9" font-family="'Liberation Sans', sans-serif" font-size="15.5" font-weight="normal" text-anchor="middle" fill="#111" stroke="#111" stroke-width="0.3" textLength="351.3" lengthAdjust="spacingAndGlyphs" >INFORMATION DISCLOSED ON THIS DOCUMENT</text>
<text x="786" y="874.8" font-family="'Liberation Sans', sans-serif" font-size="15.5" font-weight="normal" text-anchor="middle" fill="#111" stroke="#111" stroke-width="0.3" textLength="360.4" lengthAdjust="spacingAndGlyphs" >IS CONSIDERED PROPRIETARY AND SHALL NOT BE</text>
<text x="1139.8" y="872.3" font-family="'Liberation Sans', sans-serif" font-size="25" font-weight="bold" text-anchor="middle" fill="#111" stroke="#111" stroke-width="0.3" textLength="187.3" lengthAdjust="spacingAndGlyphs" >NIDEC MOTOR</text>
</svg></body></html>
